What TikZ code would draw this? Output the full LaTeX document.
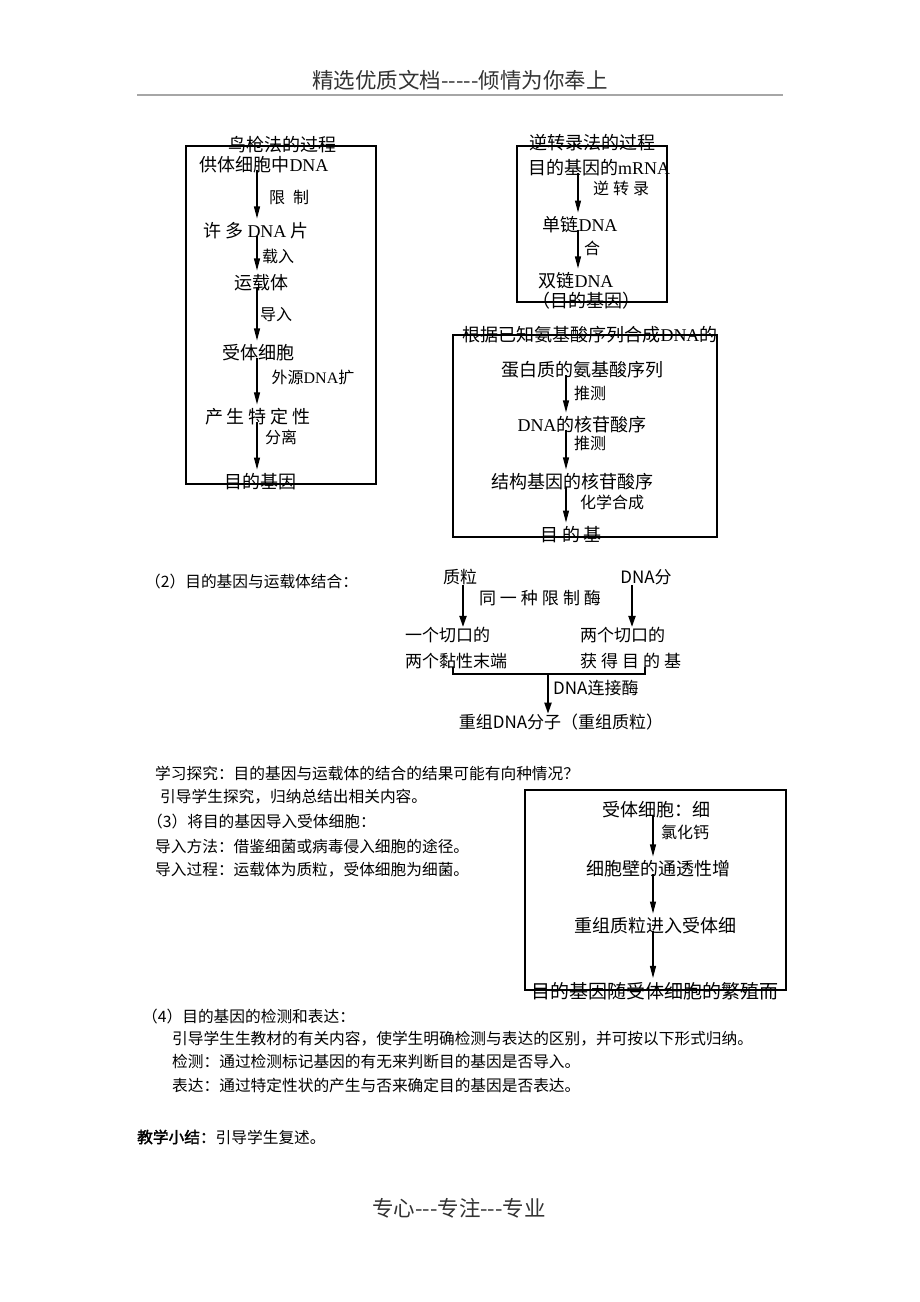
\documentclass[tikz,border=0pt]{standalone}
\usepackage{fontspec}
\setmainfont{Noto Sans CJK SC}
\newfontfamily\ser{Liberation Serif}
\newfontfamily\bcjk{Noto Sans CJK SC}[FakeBold=2]
\newfontfamily\hdf{Noto Sans CJK SC}[Ligatures=TeXOff]
\usetikzlibrary{arrows.meta,calc}
\newcommand\gp{\hspace{4pt}}
\begin{document}
\begin{tikzpicture}[x=1pt,y=-1pt,
  bx/.style={font=\fontsize{18}{20}\selectfont, inner sep=0pt},
  lb/.style={font=\fontsize{16}{18}\selectfont, inner sep=0pt},
  dg/.style={font=\fontsize{17}{19}\selectfont, inner sep=0pt},
  tx/.style={font=\fontsize{15.7}{18}\selectfont, inner sep=0pt, anchor=west},
  arr/.style={-{Triangle[length=12pt,width=6pt]}, line width=1.1pt, shorten <=-4pt, shorten >=4pt},
  tarr/.style={-{Triangle[length=11pt,width=7pt]}, line width=1.9pt},
  frame/.style={draw, line width=1.3pt},
  hd/.style={font=\hdf\fontsize{21.5}{24}\selectfont, inner sep=0pt, text=black!80}]
\useasboundingbox[fill=white] (0,0) rectangle (920,1302);

% header / footer
\node[hd] (head) at (460,80) {精选优质文档-----倾情为你奉上};
\draw[black!35, line width=1.2pt] (137,95) coordinate (hl) -- (783,95) coordinate (hr);
\node[hd] (foot) at (459,1208) {专心---专注---专业};

% ---------- Box 1 ----------
\draw[frame] (186,146) rectangle (376,484);
\node[bx] (t1) at (282,145) {鸟枪法的过程};
\node[bx] (a1) at (264,165) {供体细胞中{\ser DNA}};
\node[lb] (la1) at (289,197) {限\gp\gp 制};
\node[bx] (b1) at (256,231) {许\gp 多\gp{\ser DNA}\gp 片};
\node[lb] (lb1) at (278,256) {载入};
\node[bx] (c1) at (261,283) {运载体};
\node[lb] (lc1) at (276,315) {导入};
\node[bx] (d1) at (258,353) {受体细胞};
\node[lb] (ld1) at (313,377) {外源{\ser DNA}扩};
\node[bx] (e1) at (258,417) {产\gp 生\gp 特\gp 定\gp 性};
\node[lb] (le1) at (281,437) {分离};
\node[bx] (f1) at (260,482) {目的基因};
\coordinate (x1) at (257,0);
\draw[arr] (a1.south -| x1) -- (b1.north -| x1);
\draw[arr] (b1.south -| x1) -- (c1.north -| x1);
\draw[arr] (c1.south -| x1) -- (d1.north -| x1);
\draw[arr] (d1.south -| x1) -- (e1.north -| x1);
\draw[arr] (e1.south -| x1) -- (f1.north -| x1);

% ---------- Box 2 ----------
\draw[frame] (517,146) rectangle (667,302);
\node[bx] (t2) at (592,143) {逆转录法的过程};
\node[bx] (a2) at (599,168) {目的基因的{\ser mRNA}};
\node[lb] (la2) at (621,188) {逆\gp 转\gp 录};
\node[bx] (b2) at (580,225) {单链{\ser DNA}};
\node[lb] (lb2) at (592,248) {合};
\node[bx] (c2) at (576,281) {双链{\ser DNA}};
\node[bx] (d2) at (586,301) {（目的基因）};
\coordinate (x2) at (578,0);
\draw[arr] (a2.south -| x2) -- (b2.north -| x2);
\draw[arr] (b2.south -| x2) -- (c2.north -| x2);

% ---------- Box 3 ----------
\draw[frame] (453,335) rectangle (717,537);
\node[bx] (t3) at (590,335) {根据已知氨基酸序列合成{\ser DNA}的};
\node[bx] (a3) at (582,370) {蛋白质的氨基酸序列};
\node[lb] (la3) at (590,393) {推测};
\node[bx] (b3) at (582,425) {{\ser DNA}的核苷酸序};
\node[lb] (lb3) at (590,443) {推测};
\node[bx] (c3) at (572,482) {结构基因的核苷酸序};
\node[lb] (lc3) at (612,502) {化学合成};
\node[bx] (d3) at (571,535) {目\gp 的\gp 基};
\coordinate (x3) at (566,0);
\draw[arr] (a3.south -| x3) -- (b3.north -| x3);
\draw[arr] (b3.south -| x3) -- (c3.north -| x3);
\draw[arr] (c3.south -| x3) -- (d3.north -| x3);

% ---------- Section (2) ----------
\node[tx] (s2) at (145,582) {（2）目的基因与运载体结合：};
\node[dg] (p) at (460,577) {质粒};
\node[dg] (q) at (646,577) {DNA分};
\node[dg] (enz) at (540,598) {同\gp 一\gp 种\gp 限\gp 制\gp 酶};
\node[dg, anchor=west] (r1) at (405,635) {一个切口的};
\node[dg, anchor=west] (r2) at (405,661) {两个黏性末端};
\node[dg, anchor=west] (u1) at (580,635) {两个切口的};
\node[dg, anchor=west] (u2) at (580,661) {获\gp 得\gp 目\gp 的\gp 基};
\coordinate (xl) at (463,0);
\coordinate (xr) at (632,0);
\draw[tarr] (p.south -| xl) -- (r1.north -| xl);
\draw[tarr] (q.south -| xr) -- (u1.north -| xr);
\draw[line width=1.9pt] (453,667) -- (453,674) coordinate (bl) -- (645,674) coordinate (br) -- (645,667);
\node[dg] (t) at (561,722) {重组DNA分子（重组质粒）};
\coordinate (jn) at (548,674);
\draw[tarr] (jn) -- (t.north -| jn);
\node[dg, anchor=west] (lig) at (553,688) {DNA连接酶};

% ---------- Text rows ----------
\node[tx] (r01) at (155,773) {学习探究：目的基因与运载体的结合的结果可能有向种情况？};
\node[tx] (r02) at (160,797) {引导学生探究，归纳总结出相关内容。};
\node[tx] (r03) at (147,822) {（3）将目的基因导入受体细胞：};
\node[tx] (r04) at (155,846) {导入方法：借鉴细菌或病毒侵入细胞的途径。};
\node[tx] (r05) at (155,870) {导入过程：运载体为质粒，受体细胞为细菌。};

% ---------- Box 4 ----------
\draw[frame] (525,790) rectangle (786,990);
\node[bx] (a4) at (656,810) {受体细胞：细};
\node[lb] (la4) at (685,832) {氯化钙};
\node[bx] (b4) at (658,869) {细胞壁的通透性增};
\node[bx] (c4) at (655,926) {重组质粒进入受体细};
\node[bx, font=\fontsize{19}{21}\selectfont] (d4) at (655,991) {目的基因随受体细胞的繁殖而};
\coordinate (x4) at (653,0);
\draw[arr] (a4.south -| x4) -- (b4.north -| x4);
\draw[arr] (b4.south -| x4) -- (c4.north -| x4);
\draw[arr] (c4.south -| x4) -- (d4.north -| x4);

% ---------- Bottom text ----------
\node[tx] (r06) at (142,1017) {（4）目的基因的检测和表达：};
\node[tx] (r07) at (172,1039) {引导学生生教材的有关内容，使学生明确检测与表达的区别，并可按以下形式归纳。};
\node[tx] (r08) at (172,1062) {检测：通过检测标记基因的有无来判断目的基因是否导入。};
\node[tx] (r09) at (172,1086) {表达：通过特定性状的产生与否来确定目的基因是否表达。};
\node[tx] (r10) at (137,1137) {{\bcjk 教学小结：}引导学生复述。};
\end{tikzpicture}
\end{document}
